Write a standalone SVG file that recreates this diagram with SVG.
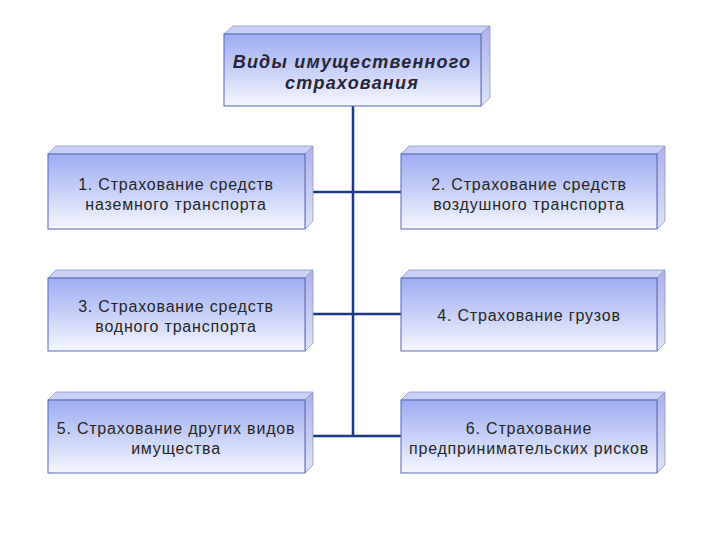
<svg xmlns="http://www.w3.org/2000/svg" width="720" height="540" viewBox="0 0 720 540">
<defs>
<linearGradient id="fg" x1="0" y1="0" x2="0" y2="1">
<stop offset="0" stop-color="#9eacf2"/>
<stop offset="0.55" stop-color="#ccd4f8"/>
<stop offset="1" stop-color="#f6f7ff"/>
</linearGradient>
<linearGradient id="sg" x1="0" y1="0" x2="0" y2="1">
<stop offset="0" stop-color="#aab2e6"/>
<stop offset="1" stop-color="#dfe3f6"/>
</linearGradient>
</defs>
<style>
.front{fill:url(#fg);stroke:#5866b4;stroke-width:1}
.top{fill:#c9d0f4;stroke:#8c96d0;stroke-width:0.8}
.side{fill:url(#sg);stroke:#8c96d0;stroke-width:0.8}
.t{font-family:"Liberation Sans",Arial,sans-serif;font-size:16px;fill:#262626;text-anchor:middle;letter-spacing:0.8px}
.h{font-family:"Liberation Sans",Arial,sans-serif;font-size:18px;font-weight:bold;font-style:italic;fill:#262638;text-anchor:middle;letter-spacing:1.2px}
.c{stroke:#1c3a80;stroke-width:2.5;fill:none}
</style>
<rect width="720" height="540" fill="#ffffff"/>
<g id="connectors">
<line class="c" x1="353" y1="106" x2="353" y2="437"/>
<line class="c" x1="313" y1="192" x2="401" y2="192"/>
<line class="c" x1="313" y1="314" x2="401" y2="314"/>
<line class="c" x1="313" y1="436" x2="401" y2="436"/>
</g>
<g id="root">
<polygon class="top" points="224,34 233,26 490,26 481,34"/>
<polygon class="side" points="481,34 490,26 490,98 481,106"/>
<rect class="front" x="224" y="34" width="257" height="72"/>
<text class="h" x="352" y="68">Виды имущественного</text>
<text class="h" x="352" y="89">страхования</text>
</g>
<g id="n1">
<polygon class="top" points="48,154 56,146 313,146 305,154"/>
<polygon class="side" points="305,154 313,146 313,221 305,229"/>
<rect class="front" x="48" y="154" width="257" height="75"/>
<text class="t" x="176" y="190">1. Страхование средств</text>
<text class="t" x="176" y="210">наземного транспорта</text>
</g>
<g id="n2">
<polygon class="top" points="401,154 409,146 665,146 657,154"/>
<polygon class="side" points="657,154 665,146 665,221 657,229"/>
<rect class="front" x="401" y="154" width="256" height="75"/>
<text class="t" x="529" y="190">2. Страхование средств</text>
<text class="t" x="529" y="210">воздушного транспорта</text>
</g>
<g id="n3">
<polygon class="top" points="48,278 56,270 313,270 305,278"/>
<polygon class="side" points="305,278 313,270 313,343 305,351"/>
<rect class="front" x="48" y="278" width="257" height="73"/>
<text class="t" x="176" y="312">3. Страхование средств</text>
<text class="t" x="176" y="332">водного транспорта</text>
</g>
<g id="n4">
<polygon class="top" points="401,278 409,270 665,270 657,278"/>
<polygon class="side" points="657,278 665,270 665,343 657,351"/>
<rect class="front" x="401" y="278" width="256" height="73"/>
<text class="t" x="529" y="321">4. Страхование грузов</text>
</g>
<g id="n5">
<polygon class="top" points="48,400 56,392 313,392 305,400"/>
<polygon class="side" points="305,400 313,392 313,465 305,473"/>
<rect class="front" x="48" y="400" width="257" height="73"/>
<text class="t" x="176" y="434">5. Страхование других видов</text>
<text class="t" x="176" y="454">имущества</text>
</g>
<g id="n6">
<polygon class="top" points="401,400 409,392 665,392 657,400"/>
<polygon class="side" points="657,400 665,392 665,465 657,473"/>
<rect class="front" x="401" y="400" width="256" height="73"/>
<text class="t" x="529" y="434">6. Страхование</text>
<text class="t" x="529" y="454">предпринимательских рисков</text>
</g>
</svg>
